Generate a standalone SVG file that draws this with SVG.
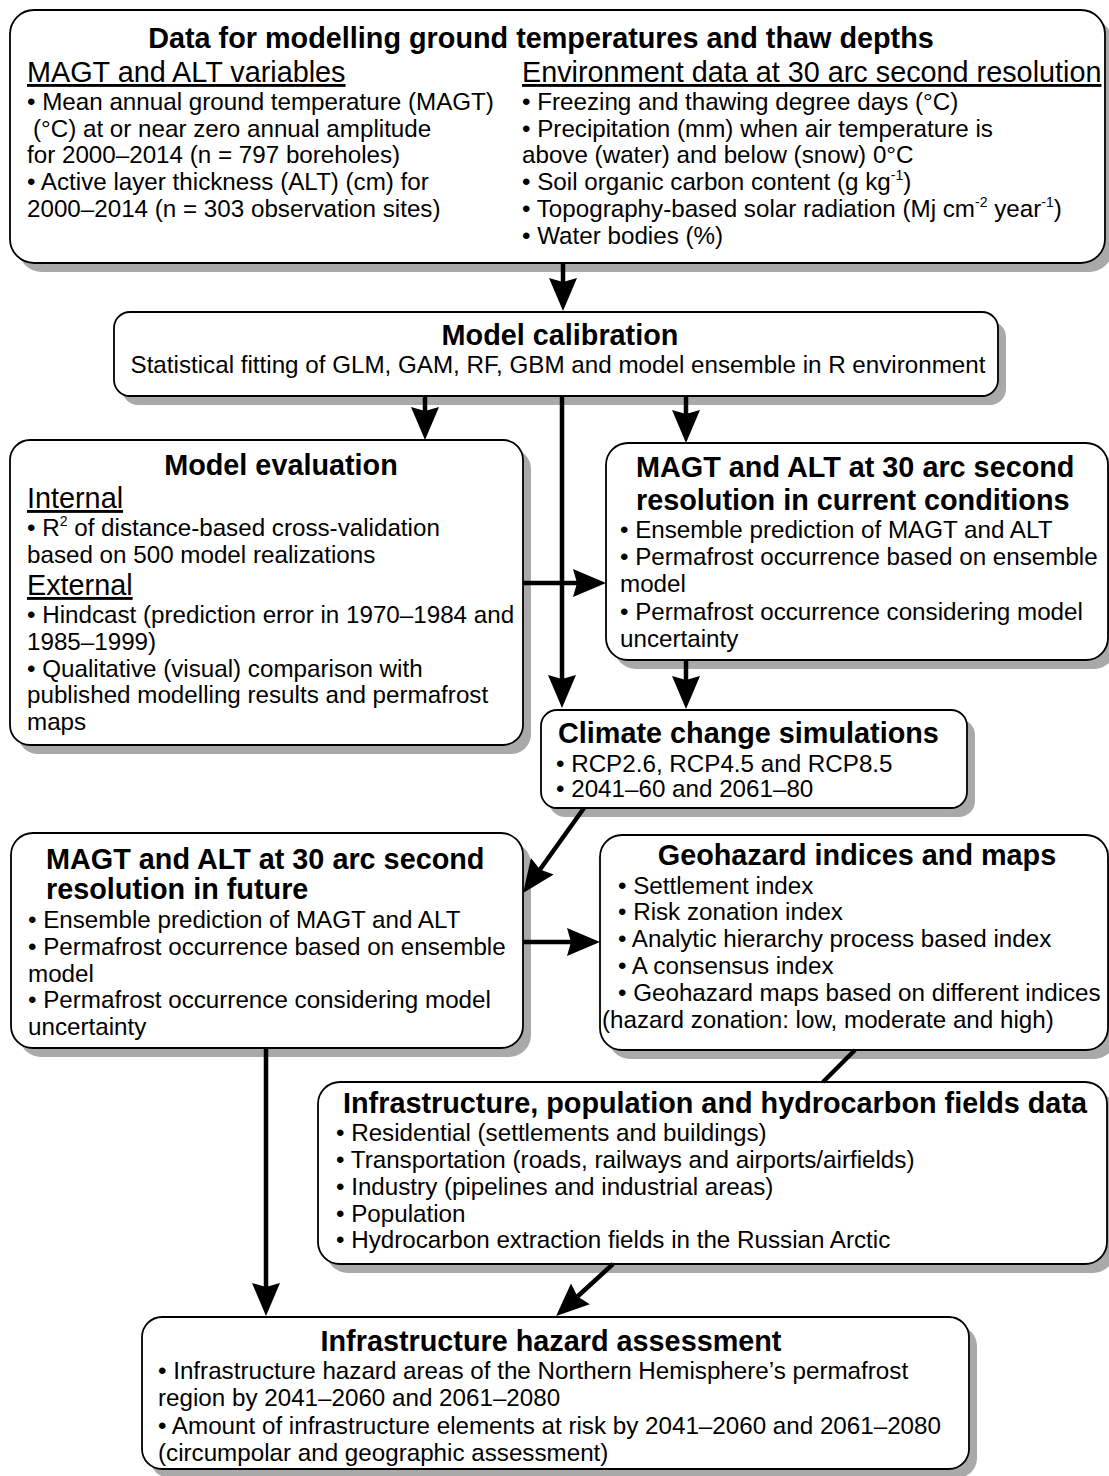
<svg xmlns="http://www.w3.org/2000/svg" width="1109" height="1476" viewBox="0 0 1109 1476">
<style>
  .shadow { fill: #a9a9a9; stroke: none; }
  .box { fill: #ffffff; stroke: #000000; stroke-width: 1.8; }
  text { font-family: "Liberation Sans", Arial, sans-serif; fill: #000000; }
  .t { font-size: 28.8px; font-weight: bold; }
  .h { font-size: 28.8px; text-decoration: underline; }
  .b { font-size: 24.2px; }
  .m { text-anchor: middle; }
  .sup { font-size: 14px; }
  .conn { stroke: #000000; stroke-width: 4.5; fill: none; }
</style>
<defs>
  <marker id="arrow" markerUnits="userSpaceOnUse" markerWidth="36" markerHeight="32" viewBox="0 -16 36 32" refX="4" refY="0" orient="auto">
    <path d="M0,-14 L33,0 L0,14 L4,0 Z" fill="#000000"/>
  </marker>
</defs>

<g id="node-data">
  <rect class="shadow" x="18" y="19" width="1095" height="253" rx="24"/>
  <rect class="box" x="10" y="10" width="1095" height="253" rx="24"/>
  <text class="t m" x="541" y="48">Data for modelling ground temperatures and thaw depths</text>
  <text class="h" x="27" y="82">MAGT and ALT variables</text>
  <text class="h" x="522" y="82">Environment data at 30 arc second resolution</text>
  <text class="b" x="27" y="110">• Mean annual ground temperature (MAGT)</text>
  <text class="b" x="33" y="137">(°C) at or near zero annual amplitude</text>
  <text class="b" x="27" y="163">for 2000–2014 (n = 797 boreholes)</text>
  <text class="b" x="27" y="190">• Active layer thickness (ALT) (cm) for</text>
  <text class="b" x="27" y="217">2000–2014 (n = 303 observation sites)</text>
  <text class="b" x="522" y="110">• Freezing and thawing degree days (°C)</text>
  <text class="b" x="522" y="137">• Precipitation (mm) when air temperature is</text>
  <text class="b" x="522" y="163">above (water) and below (snow) 0°C</text>
  <text class="b" x="522" y="190">• Soil organic carbon content (g kg<tspan class="sup" dy="-10">-1</tspan><tspan dy="10">)</tspan></text>
  <text class="b" x="522" y="217">• Topography-based solar radiation (Mj cm<tspan class="sup" dy="-10">-2</tspan><tspan dy="10"> year</tspan><tspan class="sup" dy="-10">-1</tspan><tspan dy="10">)</tspan></text>
  <text class="b" x="522" y="244">• Water bodies (%)</text>
</g>

<g id="node-calibration">
  <rect class="shadow" x="122" y="321" width="884" height="84" rx="16"/>
  <rect class="box" x="114" y="312" width="884" height="84" rx="16"/>
  <text class="t m" x="560" y="345">Model calibration</text>
  <text class="b m" x="558" y="373">Statistical fitting of GLM, GAM, RF, GBM and model ensemble in R environment</text>
</g>

<g id="node-evaluation">
  <rect class="shadow" x="18" y="449" width="513" height="305" rx="20"/>
  <rect class="box" x="10" y="440" width="513" height="305" rx="20"/>
  <text class="t m" x="281" y="475">Model evaluation</text>
  <text class="h" x="27" y="508">Internal</text>
  <text class="b" x="27" y="536">• R<tspan class="sup" dy="-10">2</tspan><tspan dy="10"> of distance-based cross-validation</tspan></text>
  <text class="b" x="27" y="563">based on 500 model realizations</text>
  <text class="h" x="27" y="595">External</text>
  <text class="b" x="27" y="623">• Hindcast (prediction error in 1970–1984 and</text>
  <text class="b" x="27" y="650">1985–1999)</text>
  <text class="b" x="27" y="677">• Qualitative (visual) comparison with</text>
  <text class="b" x="27" y="703">published modelling results and permafrost</text>
  <text class="b" x="27" y="730">maps</text>
</g>

<g id="node-current">
  <rect class="shadow" x="614" y="452" width="502" height="217" rx="22"/>
  <rect class="box" x="606" y="443" width="502" height="217" rx="22"/>
  <text class="t" x="636" y="477">MAGT and ALT at 30 arc second</text>
  <text class="t" x="636" y="510">resolution in current conditions</text>
  <text class="b" x="620" y="538">• Ensemble prediction of MAGT and ALT</text>
  <text class="b" x="620" y="565">• Permafrost occurrence based on ensemble</text>
  <text class="b" x="620" y="592">model</text>
  <text class="b" x="620" y="620">• Permafrost occurrence considering model</text>
  <text class="b" x="620" y="647">uncertainty</text>
</g>

<g id="node-climate">
  <rect class="shadow" x="549" y="719" width="426" height="98" rx="16"/>
  <rect class="box" x="541" y="710" width="426" height="98" rx="16"/>
  <text class="t" x="558" y="743">Climate change simulations</text>
  <text class="b" x="556" y="772">• RCP2.6, RCP4.5 and RCP8.5</text>
  <text class="b" x="556" y="797">• 2041–60 and 2061–80</text>
</g>

<g id="node-future">
  <rect class="shadow" x="19" y="842" width="512" height="215" rx="22"/>
  <rect class="box" x="11" y="833" width="512" height="215" rx="22"/>
  <text class="t" x="46" y="869">MAGT and ALT at 30 arc second</text>
  <text class="t" x="46" y="899">resolution in future</text>
  <text class="b" x="28" y="928">• Ensemble prediction of MAGT and ALT</text>
  <text class="b" x="28" y="955">• Permafrost occurrence based on ensemble</text>
  <text class="b" x="28" y="982">model</text>
  <text class="b" x="28" y="1008">• Permafrost occurrence considering model</text>
  <text class="b" x="28" y="1035">uncertainty</text>
</g>

<g id="node-geohazard">
  <rect class="shadow" x="608" y="844" width="508" height="215" rx="22"/>
  <rect class="box" x="600" y="835" width="508" height="215" rx="22"/>
  <text class="t m" x="857" y="865">Geohazard indices and maps</text>
  <text class="b" x="618" y="894">• Settlement index</text>
  <text class="b" x="618" y="920">• Risk zonation index</text>
  <text class="b" x="618" y="947">• Analytic hierarchy process based index</text>
  <text class="b" x="618" y="974">• A consensus index</text>
  <text class="b" x="618" y="1001">• Geohazard maps based on different indices</text>
  <text class="b" x="602" y="1028">(hazard zonation: low, moderate and high)</text>
</g>

<g id="node-infrastructure-data">
  <rect class="shadow" x="326" y="1091" width="789" height="182" rx="22"/>
  <rect class="box" x="318" y="1082" width="789" height="182" rx="22"/>
  <text class="t m" x="715" y="1113">Infrastructure, population and hydrocarbon fields data</text>
  <text class="b" x="336" y="1141">• Residential (settlements and buildings)</text>
  <text class="b" x="336" y="1168">• Transportation (roads, railways and airports/airfields)</text>
  <text class="b" x="336" y="1195">• Industry (pipelines and industrial areas)</text>
  <text class="b" x="336" y="1222">• Population</text>
  <text class="b" x="336" y="1248">• Hydrocarbon extraction fields in the Russian Arctic</text>
</g>

<g id="node-assessment">
  <rect class="shadow" x="150" y="1326" width="827" height="152" rx="20"/>
  <rect class="box" x="142" y="1317" width="827" height="152" rx="20"/>
  <text class="t m" x="551" y="1351">Infrastructure hazard assessment</text>
  <text class="b" x="158" y="1379">• Infrastructure hazard areas of the Northern Hemisphere’s permafrost</text>
  <text class="b" x="158" y="1406">region by 2041–2060 and 2061–2080</text>
  <text class="b" x="158" y="1434">• Amount of infrastructure elements at risk by 2041–2060 and 2061–2080</text>
  <text class="b" x="158" y="1461">(circumpolar and geographic assessment)</text>
</g>

<g id="connectors">
  <path class="conn" d="M563,263 L563,282" marker-end="url(#arrow)"/>
  <path class="conn" d="M425,396 L425,411" marker-end="url(#arrow)"/>
  <path class="conn" d="M562,396 L562,679" marker-end="url(#arrow)"/>
  <path class="conn" d="M686,396 L686,414" marker-end="url(#arrow)"/>
  <path class="conn" d="M523,583 L577,583" marker-end="url(#arrow)"/>
  <path class="conn" d="M686,660 L686,680" marker-end="url(#arrow)"/>
  <path class="conn" d="M584,808 L540,869.5" marker-end="url(#arrow)"/>
  <path class="conn" d="M523,942 L571,942" marker-end="url(#arrow)"/>
  <path class="conn" d="M855,1050 L823,1082"/>
  <path class="conn" d="M266,1048 L266,1287" marker-end="url(#arrow)"/>
  <path class="conn" d="M613,1264 L577.5,1296.5" marker-end="url(#arrow)"/>
</g>
</svg>
